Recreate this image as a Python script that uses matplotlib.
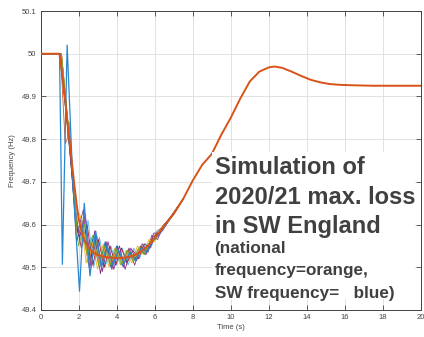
import matplotlib
matplotlib.use("Agg")
import matplotlib.pyplot as plt
from matplotlib.patches import Rectangle

plt.rcParams['font.family'] = ['Liberation Sans', 'DejaVu Sans']

# ---------------- data ----------------
# National frequency (orange, thick)
nat_t = [0, 1.0, 1.1, 1.2, 1.3, 1.4, 1.5, 1.6, 1.7, 1.8, 1.9, 2.0, 2.2, 2.4, 2.6, 2.8,
         3.0, 3.3, 3.6, 3.9, 4.2, 4.5, 4.8, 5.1, 5.4, 5.7, 6.0, 6.3, 6.6, 7.0, 7.5,
         8.0, 8.5, 9.0, 9.5, 10.0, 10.5, 11.0, 11.5, 12.0, 12.3, 12.7, 13.2, 13.7,
         14.2, 14.7, 15.2, 15.8, 16.5, 17.5, 20]
nat_f = [50.0, 50.0, 49.965, 49.93, 49.89, 49.845, 49.805, 49.765, 49.725, 49.685,
         49.648, 49.615, 49.575, 49.555, 49.542, 49.534, 49.529, 49.525, 49.523,
         49.522, 49.522, 49.523, 49.526, 49.532, 49.541, 49.553, 49.568, 49.585,
         49.603, 49.625, 49.66, 49.703, 49.74, 49.765, 49.81, 49.85, 49.895, 49.935,
         49.958, 49.968, 49.970, 49.967, 49.958, 49.948, 49.939, 49.933, 49.929,
         49.927, 49.926, 49.925, 49.925]

# SW frequency (blue)
sw_t = [0, 1.0, 1.15, 1.4, 1.7, 2.05, 2.3, 2.6, 2.9, 3.2, 3.5, 3.8, 4.1, 4.4, 4.7,
        5.0, 5.3, 5.6, 5.9, 6.2, 6.6, 7.0, 7.5]
sw_f = [50.0, 50.0, 49.507, 50.02, 49.70, 49.444, 49.65, 49.48, 49.585, 49.50,
        49.55, 49.505, 49.54, 49.51, 49.535, 49.515, 49.545, 49.535, 49.565,
        49.575, 49.60, 49.625, 49.66]

# Other local frequencies (thin coloured lines)
yel_t = [0, 1.05, 1.5, 1.8, 2.1, 2.4, 2.7, 3.0, 3.3, 3.6, 3.9, 4.2, 4.5, 4.8, 5.1, 5.4, 5.7, 6.0, 6.4, 6.9, 7.5]
yel_f = [50, 50, 49.80, 49.64, 49.62, 49.51, 49.57, 49.495, 49.555, 49.50, 49.545, 49.505,
         49.54, 49.51, 49.55, 49.53, 49.565, 49.56, 49.595, 49.62, 49.66]

pur_t = [0, 1.1, 1.55, 1.95, 2.25, 2.55, 2.85, 3.15, 3.45, 3.75, 4.05, 4.35, 4.65, 4.95, 5.25, 5.55, 5.85, 6.15, 6.5, 7.0, 7.5]
pur_f = [50, 50, 49.78, 49.58, 49.635, 49.50, 49.585, 49.485, 49.56, 49.495, 49.55, 49.50,
         49.545, 49.505, 49.55, 49.53, 49.575, 49.565, 49.60, 49.625, 49.66]

grn_t = [0, 1.0, 1.45, 1.75, 2.0, 2.3, 2.6, 2.9, 3.2, 3.5, 3.8, 4.1, 4.4, 4.7, 5.0, 5.3, 5.6, 5.9, 6.3, 6.8, 7.5]
grn_f = [50, 50, 49.82, 49.66, 49.55, 49.60, 49.515, 49.565, 49.505, 49.55, 49.505, 49.54,
         49.51, 49.535, 49.52, 49.55, 49.54, 49.57, 49.585, 49.615, 49.66]

lbl_t = [0, 1.05, 1.4, 1.7, 1.95, 2.2, 2.5, 2.8, 3.1, 3.4, 3.7, 4.0, 4.3, 4.6, 4.9, 5.2, 5.5, 5.8, 6.1, 6.5, 7.0, 7.5]
lbl_f = [50, 50, 49.84, 49.71, 49.60, 49.56, 49.61, 49.50, 49.57, 49.50, 49.55, 49.505,
         49.545, 49.505, 49.545, 49.52, 49.555, 49.545, 49.585, 49.595, 49.625, 49.66]

red_t = [0, 1.1, 1.5, 1.85, 2.15, 2.45, 2.75, 3.05, 3.35, 3.65, 3.95, 4.25, 4.55, 4.85, 5.15, 5.45, 5.75, 6.05, 6.4, 6.9, 7.5]
red_f = [50, 50, 49.81, 49.61, 49.545, 49.60, 49.505, 49.565, 49.50, 49.55, 49.505, 49.545,
         49.51, 49.54, 49.52, 49.555, 49.545, 49.575, 49.585, 49.62, 49.66]

blu_t = [0, 1.0, 1.35, 1.65, 1.9, 2.2, 2.5, 2.8, 3.1, 3.4, 3.7, 4.0, 4.3, 4.6, 4.9, 5.2, 5.5, 5.8, 6.1, 6.5, 7.0, 7.5]
blu_f = [50, 50, 49.86, 49.72, 49.56, 49.61, 49.52, 49.575, 49.50, 49.56, 49.50, 49.55,
         49.505, 49.54, 49.515, 49.545, 49.53, 49.565, 49.57, 49.60, 49.625, 49.66]

brn_t = [0, 1.05, 1.3, 1.4, 1.5, 1.9, 2.2, 2.5, 2.8, 3.1, 3.4, 3.7, 4.0, 4.3, 4.6, 4.9, 5.2, 5.5, 5.8, 6.2, 6.7, 7.5]
brn_f = [50, 50, 49.79, 49.80, 49.84, 49.57, 49.60, 49.51, 49.56, 49.50, 49.55, 49.505,
         49.54, 49.51, 49.54, 49.515, 49.545, 49.535, 49.565, 49.585, 49.61, 49.66]

yel2_t = [0, 1.1, 1.6, 1.9, 2.2, 2.5, 2.8, 3.1, 3.4, 3.7, 4.0, 4.3, 4.6, 4.9, 5.2, 5.5, 5.8, 6.1, 6.5, 7.0, 7.5]
yel2_f = [50, 50, 49.77, 49.57, 49.61, 49.515, 49.565, 49.505, 49.545, 49.51, 49.54, 49.51,
          49.535, 49.515, 49.545, 49.535, 49.565, 49.57, 49.595, 49.625, 49.66]

pur2_t = [0, 1.05, 1.45, 1.8, 2.05, 2.35, 2.65, 2.95, 3.25, 3.55, 3.85, 4.15, 4.45, 4.75, 5.05, 5.35, 5.65, 5.95, 6.3, 6.8, 7.5]
pur2_f = [50, 50, 49.82, 49.64, 49.57, 49.625, 49.50, 49.575, 49.49, 49.56, 49.495, 49.55,
          49.495, 49.545, 49.515, 49.555, 49.535, 49.58, 49.58, 49.615, 49.66]

grn2_t = [0, 1.1, 1.55, 1.9, 2.15, 2.45, 2.75, 3.05, 3.35, 3.65, 3.95, 4.25, 4.55, 4.85, 5.15, 5.45, 5.75, 6.05, 6.4, 6.9, 7.5]
grn2_f = [50, 50, 49.79, 49.60, 49.59, 49.53, 49.575, 49.505, 49.55, 49.505, 49.545, 49.505,
          49.54, 49.515, 49.545, 49.53, 49.56, 49.565, 49.595, 49.62, 49.66]

x_ticks = [0, 2, 4, 6, 8, 10, 12, 14, 16, 18, 20]
y_ticks = [49.4, 49.5, 49.6, 49.7, 49.8, 49.9, 50.0, 50.1]
y_ticklabels = ['49.4', '49.5', '49.6', '49.7', '49.8', '49.9', '50', '50.1']

title_text = "Simulation of\n2020/21 max. loss\nin SW England"
sub_text = "(national\nfrequency=orange,\nSW frequency=   blue)"

# ---------------- figure ----------------
W, H = 424, 337
fig = plt.figure(figsize=(W / 100, H / 100), dpi=100)
fig.patch.set_facecolor('white')
ax = fig.add_axes([40.5 / W, 1 - 310 / H, (421 - 40.5) / W, 299 / H])

thin = [
    (yel_t, yel_f, '#EDB120'),
    (pur_t, pur_f, '#7E2F8E'),
    (grn_t, grn_f, '#77AC30'),
    (lbl_t, lbl_f, '#4DBEEE'),
    (red_t, red_f, '#A2142F'),
    (blu_t, blu_f, '#0072BD'),
    (brn_t, brn_f, '#D95319'),
    (yel2_t, yel2_f, '#EDB120'),
    (pur2_t, pur2_f, '#7E2F8E'),
    (grn2_t, grn2_f, '#77AC30'),
]
for t, f, c in thin:
    ax.plot(t, f, color=c, lw=0.6, zorder=2)

ax.plot(sw_t, sw_f, color='#2a86cf', lw=0.9, zorder=3)
ax.plot(nat_t, nat_f, color='#D95319', lw=1.4, zorder=4, solid_joinstyle='round')

ax.set_xlim(0, 20)
ax.set_ylim(49.4, 50.1)
ax.set_xticks(x_ticks)
ax.set_yticks(y_ticks)
ax.set_yticklabels(y_ticklabels)
ax.grid(True, color='#dddddd', lw=0.6)
ax.set_axisbelow(True)
ax.tick_params(direction='in', length=3.5, width=0.6, colors='#444444',
               labelsize=5.5, top=True, right=True, pad=3)
for s in ax.spines.values():
    s.set_color('#444444')
    s.set_linewidth(0.7)
ax.set_xlabel('Time (s)', fontsize=5.5, color='#444444', labelpad=2)
ax.set_ylabel('Frequency (Hz)', fontsize=5.5, color='#444444', labelpad=4)

# white box behind the annotation
ax.add_patch(Rectangle((9.0, 49.425), 10.7, 0.345, facecolor='white',
                       edgecolor='none', zorder=5))
ax.text(9.15, 49.760, title_text, fontsize=17, fontweight='bold', color='#404040',
        va='top', ha='left', linespacing=1.36, zorder=6)
ax.text(9.15, 49.562, sub_text, fontsize=12.3, fontweight='bold', color='#404040',
        va='top', ha='left', linespacing=1.64, zorder=6)

fig.savefig('out.png', dpi=100, facecolor='white')
